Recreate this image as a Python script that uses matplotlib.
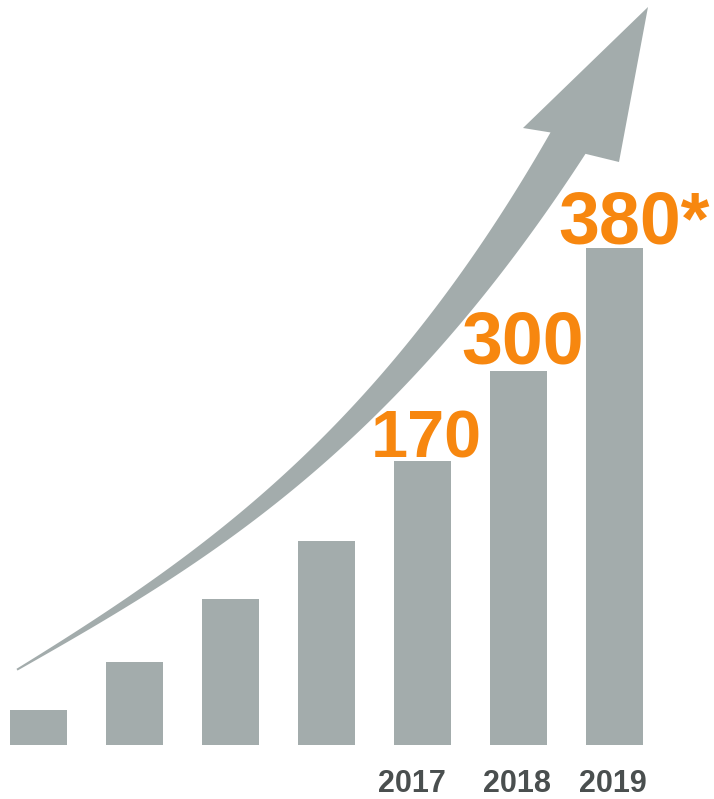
import numpy as np
import matplotlib
matplotlib.use("Agg")
from matplotlib import pyplot as plt
from matplotlib.patches import Polygon

# bar heights (drawing units)
heights = [35, 83, 146, 204, 284, 374, 497]
value_labels = ['', '', '', '', '170', '300', '380*']
years = ['', '', '', '', '2017', '2018', '2019']

gray = '#a3acac'
orange = '#f7870f'
dark = '#4a4f4f'

fig = plt.figure(figsize=(7.14, 7.99), dpi=100)
ax = fig.add_axes([0, 0, 1, 1])
ax.set_xlim(0, 714)
ax.set_ylim(0, 799)
ax.axis('off')

base = 54
x = 38.5 + 96 * np.arange(len(heights))
ax.bar(x, heights, width=57, bottom=base, color=gray, zorder=2)

label_size = [0, 0, 0, 0, 48, 53, 53]
label_dx = [0, 0, 0, 0, 4, 4, 20]
label_dy = [0, 0, 0, 0, 4, 8, 5]
for i, lab in enumerate(value_labels):
    if lab:
        ax.text(x[i] + label_dx[i], base + heights[i] + label_dy[i], lab,
                ha='center', va='baseline', fontsize=label_size[i],
                fontweight='bold', color=orange, family='Liberation Sans')

year_dx = [0, 0, 0, 0, -11, -1, -2]
for i, yr in enumerate(years):
    if yr:
        ax.text(x[i] + year_dx[i], 7, yr, ha='center', va='baseline',
                fontsize=22, fontweight='bold', color=dark,
                family='Liberation Sans')

# curved arrow: centre line, shaft widening to the head
cx = np.array([17, 100, 167, 240, 280, 343, 376, 458, 516, 568])
cy = 799 - np.array([669, 620, 577, 523, 487, 430, 400, 300, 230, 140])
coef = np.polyfit(cx, cy, 3)
xs = np.linspace(17, 568, 300)
pts = np.column_stack([xs, np.polyval(coef, xs)])
seg = np.hypot(*np.diff(pts, axis=0).T)
s = np.concatenate([[0], np.cumsum(seg)])
f = s / s[-1]
d = np.gradient(pts, axis=0)
d = d / np.linalg.norm(d, axis=1)[:, None]
nrm = np.column_stack([-d[:, 1], d[:, 0]])
w = (2 + 39 * f ** 1.1) / 2
left = pts + nrm * w[:, None]
right = pts - nrm * w[:, None]
head = np.array([[523, 799 - 128], [648, 799 - 7], [619, 799 - 162]])
poly = np.vstack([left, head, right[::-1]])
ax.add_patch(Polygon(poly, closed=True, color=gray, zorder=1, lw=0))

fig.savefig('out.png', dpi=100)
